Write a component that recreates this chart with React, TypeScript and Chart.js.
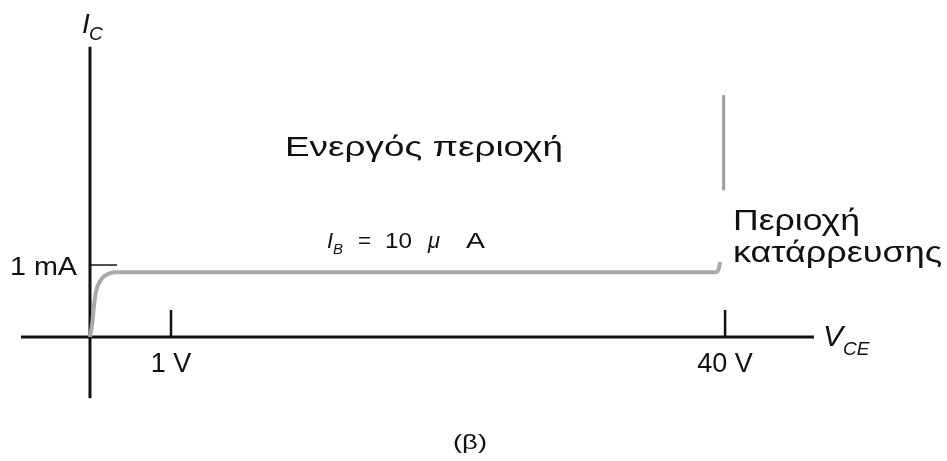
import React, { useEffect, useRef } from "react";
import {
  Chart,
  LineController,
  LineElement,
  PointElement,
  LinearScale,
} from "chart.js";

// Collector characteristic for I_B = 10 µA  (V_CE in volts, I_C in mA)
const activeVolts = [0, 0.025, 0.05, 0.074, 0.111, 0.16, 0.222, 0.31, 39.3, 39.5, 39.6, 39.65];
const activeMilliamps = [0, 0.17, 0.44, 0.63, 0.75, 0.83, 0.875, 0.9, 0.9, 0.92, 0.99, 1.04];
// Breakdown region: current climbs vertically near 40 V
const breakdownVolts = [39.9, 39.9];
const breakdownMilliamps = [2.04, 3.36];

const xTickVolts = [1, 40];
const xTickLabels = ["1 V", "40 V"];
const yTickMilliamps = [1];
const yTickLabels = ["1 mA"];

// The voltage axis is not to scale: above 1 V it is compressed.
const COMPRESS = 0.1754;
const squeeze = (v: number) => (v <= 1 ? v : 1 + (v - 1) * COMPRESS);
const unsqueeze = (u: number) => (u <= 1 ? u : 1 + (u - 1) / COMPRESS);

class SchematicScale extends LinearScale {
  static id = "schematic";
  static defaults = {};
  getPixelForValue(value: number) {
    if (value === null || value === undefined || isNaN(value)) return NaN;
    const a = squeeze(this.min);
    const b = squeeze(this.max);
    return this.getPixelForDecimal((squeeze(value) - a) / (b - a));
  }
  getValueForPixel(pixel: number) {
    const a = squeeze(this.min);
    const b = squeeze(this.max);
    return unsqueeze(a + this.getDecimalForPixel(pixel) * (b - a));
  }
}

Chart.register(LineController, LineElement, PointElement, LinearScale, SchematicScale);

const FONT = '"Liberation Sans", Arial, Helvetica, sans-serif';

const toPoints = (xs: number[], ys: number[]) => xs.map((x, i) => ({ x, y: ys[i] }));

// Draws text stretched horizontally to a given width.
function fitText(ctx: CanvasRenderingContext2D, text: string, x: number, y: number, width: number) {
  const w = ctx.measureText(text).width;
  ctx.save();
  ctx.translate(x, y);
  ctx.scale(width / w, 1);
  ctx.fillText(text, 0, 0);
  ctx.restore();
}

const diagramPlugin = {
  id: "diagram",
  beforeDatasetsDraw(chart: any) {
    const { ctx } = chart;
    const xs = chart.scales.x;
    const ys = chart.scales.y;
    const x0 = xs.getPixelForValue(0);
    const y0 = ys.getPixelForValue(0);
    ctx.save();
    ctx.strokeStyle = "#111";
    ctx.lineCap = "butt";
    // axes
    ctx.lineWidth = 3;
    ctx.beginPath();
    ctx.moveTo(x0, ys.getPixelForValue(4.03));
    ctx.lineTo(x0, ys.getPixelForValue(-0.85));
    ctx.moveTo(xs.getPixelForValue(-0.852), y0);
    ctx.lineTo(xs.getPixelForValue(46.26), y0);
    ctx.stroke();
    // voltage ticks
    ctx.lineWidth = 2.5;
    ctx.beginPath();
    xTickVolts.forEach((v) => {
      const px = xs.getPixelForValue(v);
      ctx.moveTo(px, y0);
      ctx.lineTo(px, ys.getPixelForValue(0.375));
    });
    ctx.stroke();
    // current tick
    ctx.lineWidth = 1.5;
    ctx.beginPath();
    yTickMilliamps.forEach((m) => {
      const py = ys.getPixelForValue(m);
      ctx.moveTo(x0, py);
      ctx.lineTo(xs.getPixelForValue(0.333), py);
    });
    ctx.stroke();
    ctx.restore();
  },
  afterDatasetsDraw(chart: any) {
    const { ctx } = chart;
    const xs = chart.scales.x;
    const ys = chart.scales.y;
    const x0 = xs.getPixelForValue(0);
    const y0 = ys.getPixelForValue(0);
    ctx.save();
    ctx.fillStyle = "#111";
    ctx.textBaseline = "alphabetic";

    // tick labels
    ctx.font = `27px ${FONT}`;
    ctx.textAlign = "center";
    xTickVolts.forEach((v, i) => {
      ctx.fillText(xTickLabels[i], xs.getPixelForValue(v), y0 + 35);
    });
    ctx.font = `26px ${FONT}`;
    ctx.textAlign = "left";
    yTickMilliamps.forEach((m, i) => {
      fitText(ctx, yTickLabels[i], x0 - 80, ys.getPixelForValue(m) + 10, 67);
    });

    // axis titles
    ctx.font = `italic 28px ${FONT}`;
    ctx.fillText("I", x0 - 8, 33);
    ctx.font = `italic 19px ${FONT}`;
    ctx.fillText("C", x0 - 1, 40);
    ctx.font = `italic 30px ${FONT}`;
    ctx.fillText("V", 823, 346);
    ctx.font = `italic 19px ${FONT}`;
    ctx.fillText("CE", 843, 355);

    // region labels
    ctx.font = `28px ${FONT}`;
    fitText(ctx, "Ενεργός περιοχή", 285, 156, 278);
    ctx.font = `30px ${FONT}`;
    fitText(ctx, "Περιοχή", 733, 230, 127);
    fitText(ctx, "κατάρρευσης", 733, 262, 209);

    // base current label
    ctx.font = `italic 22px ${FONT}`;
    ctx.fillText("I", 327, 248);
    ctx.font = `italic 15px ${FONT}`;
    ctx.fillText("B", 333, 254);
    ctx.font = `22px ${FONT}`;
    fitText(ctx, "=", 358, 248, 13);
    fitText(ctx, "10", 385, 248, 27);
    ctx.font = `italic 22px ${FONT}`;
    fitText(ctx, "μ", 428, 248, 12);
    ctx.font = `22px ${FONT}`;
    fitText(ctx, "A", 466, 248, 19);

    // panel caption
    ctx.font = `21px ${FONT}`;
    fitText(ctx, "(β)", 453, 449, 34);
    ctx.restore();
  },
};

export default function App() {
  const canvasRef = useRef<HTMLCanvasElement | null>(null);

  useEffect(() => {
    const canvas = canvasRef.current;
    if (!canvas) return;
    const chart = new Chart(canvas, {
      type: "line",
      data: {
        datasets: [
          {
            data: toPoints(activeVolts, activeMilliamps),
            borderColor: "#a9a9a9",
            borderWidth: 4,
            pointRadius: 0,
            cubicInterpolationMode: "monotone",
            fill: false,
          },
          {
            data: toPoints(breakdownVolts, breakdownMilliamps),
            borderColor: "#9c9c9c",
            borderWidth: 3,
            pointRadius: 0,
            tension: 0,
            fill: false,
          },
        ],
      },
      options: {
        animation: false,
        responsive: true,
        maintainAspectRatio: false,
        layout: { padding: 0 },
        events: [],
        plugins: { legend: { display: false }, tooltip: { enabled: false } },
        scales: {
          x: { type: "schematic", min: -1.111, max: 55.62, display: false },
          y: { type: "linear", min: -1.722, max: 4.681, display: false },
        },
        elements: { line: { borderCapStyle: "butt" } },
        clip: false,
      } as any,
      plugins: [diagramPlugin],
    });
    return () => chart.destroy();
  }, []);

  return (
    <div
      style={{
        position: "fixed",
        left: 0,
        top: 0,
        width: 947,
        height: 461,
        background: "#fff",
      }}
    >
      <canvas ref={canvasRef} />
    </div>
  );
}
